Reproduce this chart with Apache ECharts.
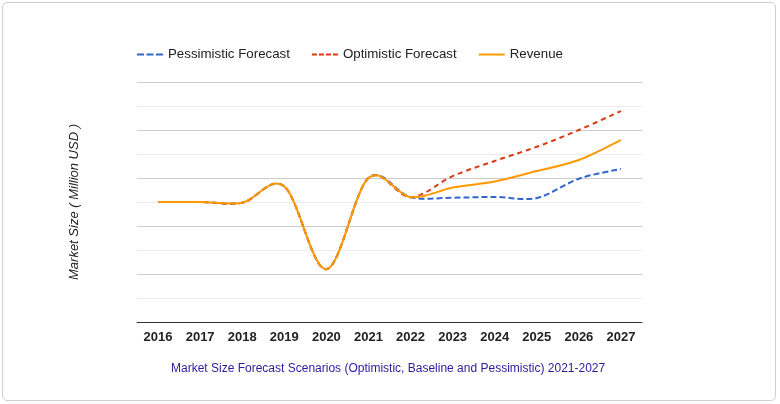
<!DOCTYPE html>
<html>
<head>
<meta charset="utf-8">
<script src="https://cdn.jsdelivr.net/npm/echarts@6/dist/echarts.min.js"></script>
<style>
  html, body { margin: 0; padding: 0; background: #fff; }
  #frame { position: absolute; left: 2px; top: 2px; width: 772px; height: 397px; border: 1px solid #cfcfcf; border-radius: 5px; }
  #chart { position: absolute; left: 0; top: 0; width: 780px; height: 404px; }
</style>
</head>
<body>
<div id="frame"></div>
<div id="chart"></div>
<script>
// years on the x axis
var years = ['2016', '2017', '2018', '2019', '2020', '2021', '2022', '2023', '2024', '2025', '2026', '2027'];
// values (axis has no labels, 0..10 scale)
var pessimistic = [5.0, 5.0, 4.97, 5.65, 2.2, 6.0, 5.2, 5.18, 5.21, 5.17, 5.97, 6.38];
var optimistic  = [5.0, 5.0, 4.97, 5.65, 2.2, 6.0, 5.2, 6.08, 6.71, 7.3, 8.0, 8.79];
var revenue     = [5.0, 5.0, 4.97, 5.65, 2.2, 6.0, 5.2, 5.6, 5.85, 6.29, 6.75, 7.58];

var chart = echarts.init(document.getElementById('chart'));

var font = 'Arial, "Liberation Sans", sans-serif';
var tension = 1 / 6;

// catmull-rom style curve (overshoots like the original), points from api.coord
function curveRenderer(values, color, dash) {
  return function (params, api) {
    if (params.dataIndex !== 0) return null;
    var n = values.length;
    var pt = function (j) {
      j = Math.max(0, Math.min(n - 1, j));
      return api.coord([j, values[j]]);
    };
    var d = '';
    for (var i = 0; i < n - 1; i++) {
      var p0 = pt(i - 1), p1 = pt(i), p2 = pt(i + 1), p3 = pt(i + 2);
      if (i === 0) d += 'M' + p1[0] + ' ' + p1[1];
      var c1x = p1[0] + (p2[0] - p0[0]) * tension;
      var c1y = p1[1] + (p2[1] - p0[1]) * tension;
      var c2x = p2[0] - (p3[0] - p1[0]) * tension;
      var c2y = p2[1] - (p3[1] - p1[1]) * tension;
      d += 'C' + c1x + ' ' + c1y + ' ' + c2x + ' ' + c2y + ' ' + p2[0] + ' ' + p2[1];
    }
    return {
      type: 'path',
      shape: { pathData: d },
      style: { fill: null, stroke: color, lineWidth: 2, lineDash: dash }
    };
  };
}

function asPairs(values) {
  return values.map(function (v, i) { return [i, v]; });
}

var option = {
  animation: false,
  textStyle: { fontFamily: font },
  title: {
    text: 'Market Size Forecast Scenarios (Optimistic, Baseline and Pessimistic) 2021-2027',
    left: 166,
    top: 358,
    textStyle: { color: '#2b1a9c', fontSize: 12, fontWeight: 'normal', fontFamily: font }
  },
  legend: {
    left: 137,
    top: 48,
    padding: 0,
    itemWidth: 26,
    itemHeight: 2,
    itemGap: 22,
    textStyle: { color: '#222', fontSize: 13.3, fontFamily: font },
    data: [
      { name: 'Pessimistic Forecast', icon: 'path://M0,0H7V2H0Z M9.5,0H16.5V2H9.5Z M19,0H26V2H19Z' },
      { name: 'Optimistic Forecast', icon: 'path://M0,0H5V2H0Z M7,0H12V2H7Z M14,0H19V2H14Z M21,0H26V2H21Z' },
      { name: 'Revenue', icon: 'path://M0,0H26V2H0Z' }
    ]
  },
  grid: { left: 137, right: 138, top: 82, bottom: 82 },
  xAxis: {
    type: 'category',
    data: years,
    boundaryGap: true,
    axisLine: { lineStyle: { color: '#333', width: 1 } },
    axisTick: { show: false },
    axisLabel: { color: '#222', fontSize: 13, fontWeight: 'bold', margin: 9, fontFamily: font }
  },
  yAxis: {
    type: 'value',
    min: 0,
    max: 10,
    interval: 1,
    name: 'Market Size ( Million USD )',
    nameLocation: 'middle',
    nameGap: 56,
    nameTextStyle: { color: '#222', fontSize: 13, fontStyle: 'italic', fontFamily: font },
    axisLine: { show: false },
    axisTick: { show: false },
    axisLabel: { show: false },
    splitLine: { lineStyle: { color: ['#cccccc', '#ebebeb'], width: 1 } }
  },
  series: [
    {
      name: 'Pessimistic Forecast',
      type: 'custom',
      data: asPairs(pessimistic),
      encode: { x: 0, y: 1 },
      color: '#3366cc',
      renderItem: curveRenderer(pessimistic, '#3366cc', [6, 3])
    },
    {
      name: 'Optimistic Forecast',
      type: 'custom',
      data: asPairs(optimistic),
      encode: { x: 0, y: 1 },
      color: '#dc3912',
      renderItem: curveRenderer(optimistic, '#dc3912', [5, 4])
    },
    {
      name: 'Revenue',
      type: 'custom',
      data: asPairs(revenue),
      encode: { x: 0, y: 1 },
      color: '#ff9900',
      renderItem: curveRenderer(revenue, '#ff9900', null)
    }
  ]
};

chart.setOption(option);
</script>
</body>
</html>
